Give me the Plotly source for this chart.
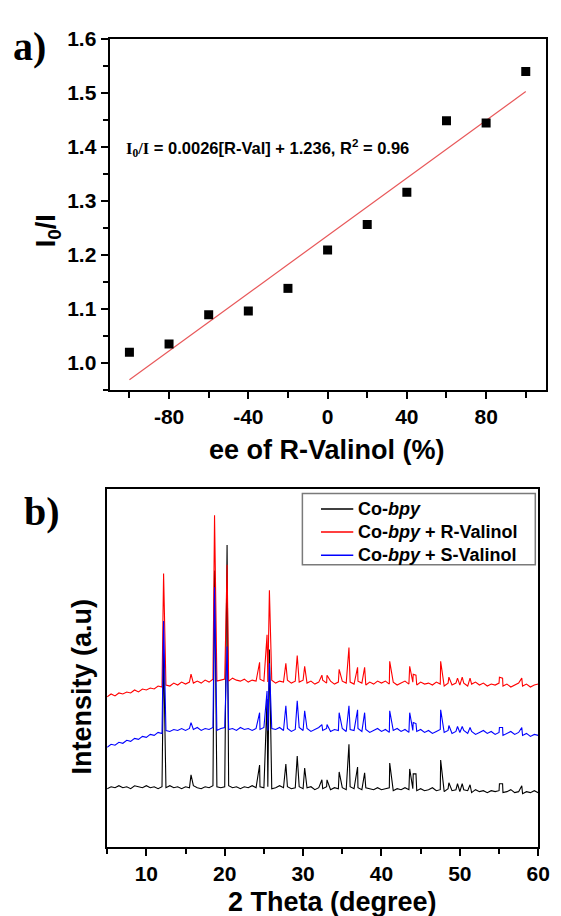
import numpy as np
import plotly.graph_objects as go

# ---------------- Panel a data ----------------
ee = [-100, -80, -60, -40, -20, 0, 20, 40, 60, 80, 100]
ratio = [1.020, 1.035, 1.089, 1.096, 1.138, 1.209, 1.256, 1.316, 1.448, 1.444, 1.539]
a_xticks = [-80, -40, 0, 40, 80]
a_xticktext = ["-80", "-40", "0", "40", "80"]
a_yticks = [1.0, 1.1, 1.2, 1.3, 1.4, 1.5, 1.6]

# ---------------- Panel b data (XRD, arbitrary units) ----------------
base_x = [5.0, 5.5, 6.0, 6.5, 7.0, 7.5, 8.0, 8.5, 9.0, 9.5,
          10.0, 10.5, 11.0, 11.5, 12.0, 12.5, 13.0, 13.5, 14.0, 14.5,
          15.0, 15.5, 16.0, 16.5, 17.0, 17.5, 18.0, 18.5, 19.0, 19.5,
          20.0, 20.5, 21.0, 21.5, 22.0, 22.5, 23.0, 23.5, 24.0, 24.5,
          25.0, 25.5, 26.0, 26.5, 27.0, 27.5, 28.0, 28.5, 29.0, 29.5,
          30.0, 30.5, 31.0, 31.5, 32.0, 32.5, 33.0, 33.5, 34.0, 34.5,
          35.0, 35.5, 36.0, 36.5, 37.0, 37.5, 38.0, 38.5, 39.0, 39.5,
          40.0, 40.5, 41.0, 41.5, 42.0, 42.5, 43.0, 43.5, 44.0, 44.5,
          45.0, 45.5, 46.0, 46.5, 47.0, 47.5, 48.0, 48.5, 49.0, 49.5,
          50.0, 50.5, 51.0, 51.5, 52.0, 52.5, 53.0, 53.5, 54.0, 54.5,
          55.0, 55.5, 56.0, 56.5, 57.0, 57.5, 58.0, 58.5, 59.0, 59.5,
          60.0]

black_base = [59, 61, 60, 62, 60, 61, 59, 62, 61, 60,
              62, 60, 61, 59, 61, 60, 62, 60, 61, 59,
              61, 60, 62, 60, 59, 61, 60, 62, 61, 60,
              61, 62, 60, 61, 59, 61, 60, 62, 60, 61,
              60, 61, 59, 60, 62, 60, 61, 59, 60, 61,
              59, 60, 61, 58, 60, 59, 61, 58, 60, 59,
              60, 58, 61, 59, 60, 58, 60, 59, 58, 60,
              58, 59, 60, 57, 59, 58, 60, 58, 59, 57,
              59, 57, 58, 60, 57, 58, 56, 59, 57, 58,
              56, 58, 57, 55, 58, 56, 57, 55, 57, 56,
              57, 55, 56, 58, 55, 56, 54, 56, 55, 57,
              55]

red_base = [152, 155, 153, 156, 155, 157, 156, 159, 157, 160,
            159, 161, 160, 163, 162, 164, 163, 166, 164, 167,
            165, 167, 166, 168, 166, 169, 167, 170, 168, 169,
            170, 168, 171, 169, 168, 170, 167, 169, 168, 170,
            168, 167, 169, 166, 168, 167, 169, 166, 168, 167,
            169, 166, 168, 165, 167, 169, 166, 168, 165, 167,
            168, 166, 167, 165, 168, 166, 164, 167, 165, 168,
            166, 168, 165, 167, 164, 166, 168, 165, 167, 164,
            167, 165, 166, 164, 167, 165, 163, 166, 164, 166,
            164, 166, 163, 165, 167, 164, 166, 163, 165, 164,
            166, 163, 165, 162, 164, 166, 163, 165, 162, 164,
            165]

blue_base = [101, 104, 103, 106, 105, 108, 107, 110, 109, 112,
             111, 114, 113, 116, 115, 118, 117, 119, 118, 120,
             118, 120, 119, 121, 118, 120, 119, 121, 118, 120,
             121, 119, 120, 118, 121, 119, 120, 118, 120, 119,
             121, 118, 120, 119, 121, 118, 120, 117, 119, 121,
             118, 120, 117, 119, 121, 118, 120, 117, 119, 118,
             120, 117, 119, 118, 120, 117, 119, 116, 118, 120,
             117, 119, 116, 118, 120, 117, 119, 116, 118, 117,
             119, 116, 118, 115, 117, 119, 116, 118, 115, 117,
             116, 118, 115, 117, 114, 116, 118, 115, 117, 114,
             116, 113, 115, 117, 114, 116, 113, 115, 112, 114,
             113]

peak_x = [12.2, 15.7, 18.7, 20.3, 24.45, 25.4, 25.7, 27.8, 29.25, 30.2,
          32.4, 33.05, 34.6, 35.85, 36.95, 37.85, 41.05, 43.6, 44.05, 44.4,
          47.55, 48.6, 49.7, 50.3, 51.3, 55.05, 55.45, 57.9]

black_peak = [200, 73, 280, 306, 83, 150, 200, 84, 92, 80,
              68, 68, 76, 104, 81, 75, 85, 79, 74, 74,
              88, 65, 64, 64, 63, 64, 64, 62]

red_peak = [277, 175, 336, 286, 187, 215, 260, 186, 194, 183,
            174, 174, 180, 202, 182, 182, 188, 183, 175, 174,
            188, 172, 171, 172, 171, 172, 171, 171]

blue_peak = [229, 126, 263, 203, 136, 158, 186, 143, 148, 138,
             124, 124, 136, 143, 139, 136, 138, 136, 126, 125,
             139, 123, 122, 122, 121, 121, 121, 121]

series_names = ["Co-<i>bpy</i>", "Co-<i>bpy</i> + R-Valinol", "Co-<i>bpy</i> + S-Valinol"]
series_colors = ["#000000", "#ff0000", "#0000ff"]
b_xticks = [10, 20, 30, 40, 50, 60]

W, H = 561, 916
FONT = "Liberation Sans, Arial, sans-serif"
SERIF = "Liberation Serif, Times New Roman, serif"


def px(x):
    return x / W


def py(y):
    return (H - y) / H


def merge(bx, by, pkx, pky):
    pts = sorted(zip(list(bx) + list(pkx), list(by) + list(pky)))
    return [p[0] for p in pts], [p[1] for p in pts]


fig = go.Figure()

# Panel a
slope, intercept = np.polyfit(ee, ratio, 1)
fit_x = [ee[0], ee[-1]]
fit_y = [slope * v + intercept for v in fit_x]
fig.add_trace(go.Scatter(x=fit_x, y=fit_y, mode="lines",
                         line=dict(color="#e8585a", width=1.2),
                         showlegend=False, xaxis="x", yaxis="y"))
fig.add_trace(go.Scatter(x=ee, y=ratio, mode="markers",
                         marker=dict(symbol="square", size=9, color="black"),
                         showlegend=False, xaxis="x", yaxis="y"))

# Panel b
for name, color, bb, pk in zip(series_names, series_colors,
                               [black_base, red_base, blue_base],
                               [black_peak, red_peak, blue_peak]):
    xx, yy = merge(base_x, bb, peak_x, pk)
    fig.add_trace(go.Scatter(x=xx, y=yy, mode="lines", name=name,
                             line=dict(color=color, width=1.1),
                             showlegend=False, xaxis="x2", yaxis="y2"))

tickfont = dict(family=FONT, size=21, color="black", weight="bold")
axis_common = dict(showline=True, linecolor="black", linewidth=2, mirror=True,
                   showgrid=False, zeroline=False, tickfont=tickfont,
                   ticks="outside", ticklen=7, tickwidth=2, tickcolor="black",
                   ticklabeloverflow="allow")

# legend box (drawn manually to match the reference spacing)
shapes = [dict(type="rect", xref="paper", yref="paper",
               x0=px(309), x1=px(547), y0=py(560), y1=py(488),
               line=dict(color="#7a7a7a", width=1.5), fillcolor="white",
               layer="below")]
legend_rows = [503.5, 527, 550.5]
for row, color in zip(legend_rows, series_colors):
    shapes.append(dict(type="line", xref="paper", yref="paper",
                       x0=px(328), x1=px(361), y0=py(row), y1=py(row),
                       line=dict(color=color, width=1.5)))

fig.update_layout(
    width=W, height=H,
    margin=dict(l=0, r=0, t=0, b=0),
    paper_bgcolor="white", plot_bgcolor="white",
    showlegend=False,
    xaxis=dict(domain=[px(112), px(557.5)], anchor="y", range=[-110, 110],
               tickvals=a_xticks, ticktext=a_xticktext,
               minor=dict(tickvals=[-100, -60, -20, 20, 60, 100], ticks="outside",
                          ticklen=6, tickwidth=2, tickcolor="black"),
               **axis_common),
    yaxis=dict(domain=[py(383), py(27)], anchor="x", range=[0.95, 1.6],
               tickvals=a_yticks, tickformat=".1f",
               minor=dict(dtick=0.05, tick0=0.95, ticks="outside",
                          ticklen=5, tickwidth=2, tickcolor="black"),
               **axis_common),
    xaxis2=dict(domain=[px(109.5), px(550)], anchor="y2", range=[5, 60],
                tickvals=b_xticks,
                minor=dict(dtick=5, tick0=5, ticks="outside",
                           ticklen=5, tickwidth=2, tickcolor="black"),
                **axis_common),
    yaxis2=dict(domain=[py(846), py(483)], anchor="x2", range=[0, 363],
                showline=True, linecolor="black", linewidth=2, mirror=True,
                showgrid=False, zeroline=False, showticklabels=False, ticks=""),
    shapes=shapes,
)

legend_font = dict(family=FONT, size=18, color="black", weight="bold")
for row, name in zip(legend_rows, series_names):
    fig.add_annotation(xref="paper", yref="paper", showarrow=False,
                       xanchor="left", yanchor="middle",
                       x=px(364), y=py(row), text=name, font=legend_font)

title_font = dict(family=FONT, size=27, color="black", weight="bold")
label_font = dict(family=SERIF, size=40, color="black", weight="bold")
annots = [
    dict(text="a)", x=px(30.5), y=py(35), font=label_font),
    dict(text="b)", x=px(43), y=py(506), font=label_font),
    dict(text="I<sub>0</sub>/I", x=px(49.3), y=py(222), textangle=-90, font=title_font),
    dict(text="ee of R-Valinol (%)", x=px(334.2), y=py(444), font=title_font),
    dict(text="Intensity (a.u)", x=px(84.2), y=py(683), textangle=-90, font=title_font),
    dict(text="2 Theta (degree)", x=px(339.6), y=py(902), font=title_font),
]
for a in annots:
    fig.add_annotation(xref="paper", yref="paper", showarrow=False,
                       xanchor="center", yanchor="middle", **a)

fig.add_annotation(
    xref="paper", yref="paper", showarrow=False, xanchor="left", yanchor="middle",
    x=px(127), y=py(138),
    text=("<span style='font-family:Liberation Serif'>I<sub>0</sub>/I</span>"
          " = 0.0026[R-Val] + 1.236, R<sup>2</sup> = 0.96"),
    font=dict(family=FONT, size=16.5, color="black", weight="bold"))

fig.write_html("out.html", config={"displayModeBar": False},
               post_script="document.body.style.margin='0';document.body.style.overflow='hidden';")
